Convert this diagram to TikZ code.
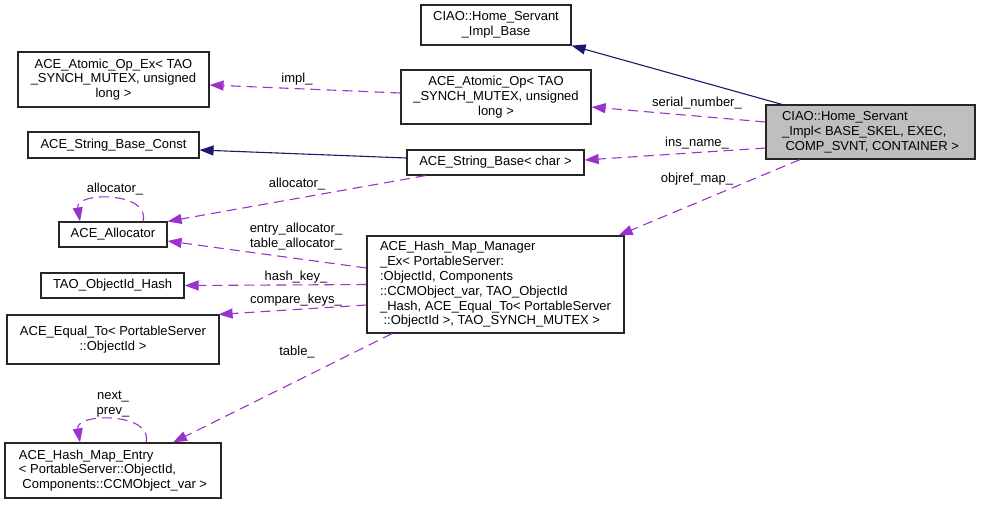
\documentclass[tikz,border=0pt]{standalone}
\usepackage{fontspec}
\setmainfont{Liberation Sans}
\usetikzlibrary{arrows.meta}
\definecolor{edgepurple}{HTML}{9A32CD}
\definecolor{edgenavy}{HTML}{191970}
\tikzset{
  cls/.style={draw=black!85, line width=1.2pt, rectangle, inner sep=0pt,
    font=\fontsize{13}{14.8}\selectfont, align=center},
  clsl/.style={cls, align=left},
  inh/.style={draw=edgenavy, line width=1.1pt,
    -{Triangle[length=14pt,width=10pt,fill=edgenavy]}},
  usage/.style={draw=edgepurple, line width=1.1pt, dash pattern=on 10pt off 6pt,
    -{Triangle[length=14pt,width=10pt,fill=edgepurple]}},
  lbl/.style={font=\fontsize{13}{14.8}\selectfont, align=center, inner sep=0pt},
}
\begin{document}
\begin{tikzpicture}[x=1pt,y=-1pt]
\useasboundingbox (0,0) rectangle (981,504);

% classes
\node[clsl, fill=black!25, minimum width=209pt, minimum height=54pt] (main) at (870.5,132)
  {CIAO::Home\_Servant\\\_Impl< BASE\_SKEL, EXEC,\\\hspace*{3.5pt}COMP\_SVNT, CONTAINER >};
\node[cls, minimum width=150pt, minimum height=40pt] (base) at (496,25)
  {CIAO::Home\_Servant\\\_Impl\_Base};
\node[cls, minimum width=190pt, minimum height=54pt] (atomic) at (496,97)
  {ACE\_Atomic\_Op< TAO\\\_SYNCH\_MUTEX, unsigned\\long >};
\node[cls, minimum width=191pt, minimum height=55pt] (atomicex) at (113.5,79.5)
  {ACE\_Atomic\_Op\_Ex< TAO\\\_SYNCH\_MUTEX, unsigned\\long >};
\node[cls, minimum width=177pt, minimum height=25pt] (strbase) at (495.5,162.5)
  {ACE\_String\_Base< char >};
\node[cls, minimum width=171pt, minimum height=26pt] (strconst) at (113.5,145)
  {ACE\_String\_Base\_Const};
\node[cls, minimum width=108pt, minimum height=25pt] (alloc) at (113,234.5)
  {ACE\_Allocator};
\node[cls, minimum width=143pt, minimum height=25pt] (hash) at (112.5,285.5)
  {TAO\_ObjectId\_Hash};
\node[cls, minimum width=212pt, minimum height=49pt] (equal) at (113,339.5)
  {ACE\_Equal\_To< PortableServer\\::ObjectId >};
\node[clsl, minimum width=257pt, minimum height=97pt] (manager) at (495.5,284.5)
  {ACE\_Hash\_Map\_Manager\\\_Ex< PortableServer:\\:ObjectId, Components\\::CCMObject\_var, TAO\_ObjectId\\\_Hash, ACE\_Equal\_To< PortableServer\\\hspace*{3.5pt}::ObjectId >, TAO\_SYNCH\_MUTEX >};
\node[clsl, minimum width=216pt, minimum height=55pt] (entry) at (113,470.5)
  {ACE\_Hash\_Map\_Entry\\< PortableServer::ObjectId,\\\hspace*{3.5pt}Components::CCMObject\_var >};

% inheritance
\draw[inh] ([xshift=-88.5pt]main.north) -- (base.south east);
\draw[inh] ([yshift=4.5pt]strbase.west) -- ([yshift=-5pt]strconst.east);

% members
\draw[usage] ([yshift=10pt]main.west) -- ([yshift=-10pt]atomic.east);
\draw[usage] ([yshift=-16pt]main.west) -- ([yshift=2.5pt]strbase.east);
\draw[usage] ([xshift=-70.5pt]main.south) -- ([xshift=-6pt]manager.north east);
\draw[usage] ([yshift=4pt]atomic.west) -- ([yshift=-5.5pt]atomicex.east);
\draw[usage] ([xshift=-70pt]strbase.south) -- (alloc.north east);
\draw[usage] ([xshift=30pt]alloc.north) .. controls +(8,-30) and +(-5,-30) .. ([xshift=-33pt]alloc.north);
\draw[usage] ([yshift=16.5pt]manager.west) -- ([yshift=-6.5pt]alloc.east);
\draw[usage] (manager.west) -- (hash.east);
\draw[usage] ([yshift=-20.5pt]manager.west) -- ([xshift=-1pt]equal.north east);
\draw[usage] ([xshift=-103.5pt]manager.south) -- ([xshift=60pt]entry.north);
\draw[usage] ([xshift=33pt]entry.north) .. controls +(8,-30) and +(-5,-30) .. ([xshift=-33pt]entry.north);

% labels
\node[lbl] (lserial) at (697,103) {serial\_number\_};
\node[lbl] (lins) at (697,143) {ins\_name\_};
\node[lbl] (lobjref) at (697,179) {objref\_map\_};
\node[lbl] (limpl) at (297,79) {impl\_};
\node[lbl] (lalloc) at (297,184) {allocator\_};
\node[lbl] (lallocself) at (115,189) {allocator\_};
\node[lbl] (lentryalloc) at (296,236.5) {entry\_allocator\_\\table\_allocator\_};
\node[lbl] (lhash) at (296,277) {hash\_key\_};
\node[lbl] (lcompare) at (296,300) {compare\_keys\_};
\node[lbl] (ltable) at (297,352) {table\_};
\node[lbl] (lnext) at (113,404.5) {next\_\\prev\_};

\end{tikzpicture}
\end{document}
